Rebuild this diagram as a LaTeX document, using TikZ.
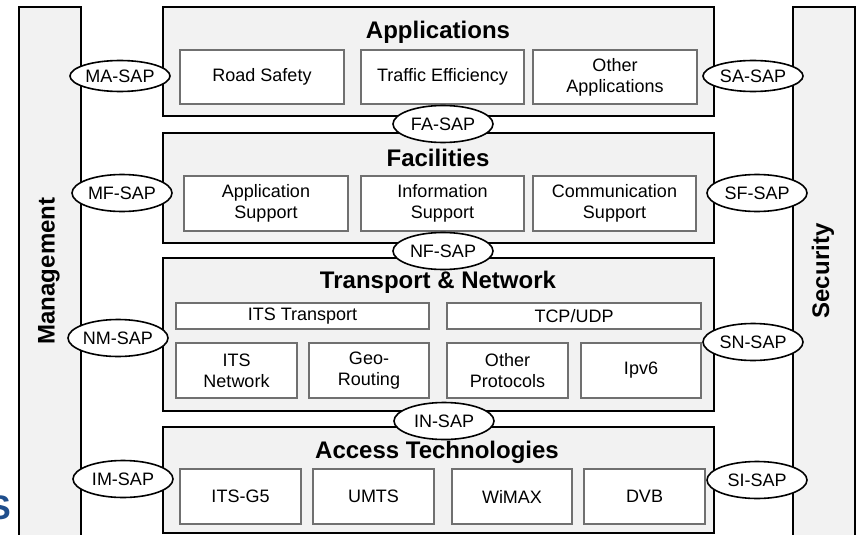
\documentclass[tikz,border=0pt]{standalone}
\usepackage{fontspec}
\setmainfont{Liberation Sans}
\usetikzlibrary{shapes.geometric}

\definecolor{layergray}{HTML}{F2F2F2}
\definecolor{edgegray}{HTML}{707070}
\definecolor{logoblue}{HTML}{1F4E8C}

\begin{document}
\begin{tikzpicture}[x=1pt,y=-1pt,
  layer/.style={draw, line width=1.8pt, fill=layergray, inner sep=0pt},
  unit/.style={draw=edgegray, line width=1.2pt, fill=white, align=center,
    inner sep=0pt, font=\fontsize{18}{21}\selectfont},
  heading/.style={inner sep=0pt, font=\fontsize{24}{28}\selectfont\bfseries},
  sap/.style={ellipse, draw, line width=1.6pt, fill=white, minimum width=100pt,
    minimum height=37pt, inner sep=0pt, font=\fontsize{18}{21}\selectfont}]
  \useasboundingbox (0,0) rectangle (859,535);

  % side columns
  \node[layer, minimum width=62pt, minimum height=538pt] (mgmt) at (50,276) {};
  \node[layer, minimum width=62pt, minimum height=538pt] (sec) at (824,276) {};
  \node[heading, rotate=90] (mgmttxt) at (49,271) {Management};
  \node[heading, rotate=90] (sectxt) at (823,271) {Security};

  % applications
  \node[layer, minimum width=551pt, minimum height=109pt] (apps) at (438.5,61.5) {};
  \node[heading] (appstxt) at (438,32) {Applications};
  \node[unit, minimum width=164pt, minimum height=54pt] (road) at (262,77) {Road Safety};
  \node[unit, minimum width=163pt, minimum height=54pt] (traffic) at (442.5,77) {Traffic Efficiency};
  \node[unit, minimum width=164pt, minimum height=54pt] (otherapps) at (615,77) {Other\\Applications};

  % facilities
  \node[layer, minimum width=551pt, minimum height=110pt] (fac) at (438.5,188) {};
  \node[heading] (factxt) at (438,158) {Facilities};
  \node[unit, minimum width=164pt, minimum height=55pt] (appsup) at (266,203.5) {Application\\Support};
  \node[unit, minimum width=163pt, minimum height=55pt] (infosup) at (442.5,203.5) {Information\\Support};
  \node[unit, minimum width=163pt, minimum height=55pt] (commsup) at (614.5,203.5) {Communication\\Support};

  % transport and network
  \node[layer, minimum width=551pt, minimum height=153pt] (trans) at (438.5,334.5) {};
  \node[heading] (transtxt) at (438,282) {Transport \& Network};
  \node[unit, minimum width=253pt, minimum height=26pt] (itstrans) at (302.5,316) {ITS Transport};
  \node[unit, minimum width=254pt, minimum height=26pt] (tcpudp) at (574,316) {TCP/UDP};
  \node[unit, minimum width=121pt, minimum height=55pt] (itsnet) at (236.5,370.5) {ITS\\Network};
  \node[unit, minimum width=120pt, minimum height=55pt] (georout) at (369,370.5) {Geo-\\Routing};
  \node[unit, minimum width=121pt, minimum height=55pt] (otherprot) at (507.5,370.5) {Other\\Protocols};
  \node[unit, minimum width=120pt, minimum height=55pt] (ipv6) at (641,370.5) {Ipv6};

  % access technologies
  \node[layer, minimum width=551pt, minimum height=106pt] (access) at (438.5,480) {};
  \node[heading] (accesstxt) at (437,452) {Access Technologies};
  \node[unit, minimum width=121pt, minimum height=55pt] (itsg5) at (240.5,496.5) {ITS-G5};
  \node[unit, minimum width=121pt, minimum height=55pt] (umts) at (373.5,496.5) {UMTS};
  \node[unit, minimum width=120pt, minimum height=55pt] (wimax) at (512,496.5) {WiMAX};
  \node[unit, minimum width=121pt, minimum height=55pt] (dvb) at (644.5,496.5) {DVB};

  % service access points
  \node[sap, minimum height=31pt] (masap) at (120,76) {MA-SAP};
  \node[sap, minimum height=31pt] (sasap) at (753,76) {SA-SAP};
  \node[sap] (fasap) at (443,124) {FA-SAP};
  \node[sap] (mfsap) at (122,193) {MF-SAP};
  \node[sap] (sfsap) at (757,193) {SF-SAP};
  \node[sap] (nfsap) at (443,251) {NF-SAP};
  \node[sap] (nmsap) at (118,338) {NM-SAP};
  \node[sap] (snsap) at (753,342) {SN-SAP};
  \node[sap] (insap) at (444,421) {IN-SAP};
  \node[sap] (imsap) at (123,479) {IM-SAP};
  \node[sap] (sisap) at (757,480) {SI-SAP};

  % cut-off letter at the lower left
  \node[anchor=east, inner sep=0pt, text=logoblue,
    font=\fontsize{34}{34}\selectfont\bfseries] (logo) at (11,508) {S};
\end{tikzpicture}
\end{document}
